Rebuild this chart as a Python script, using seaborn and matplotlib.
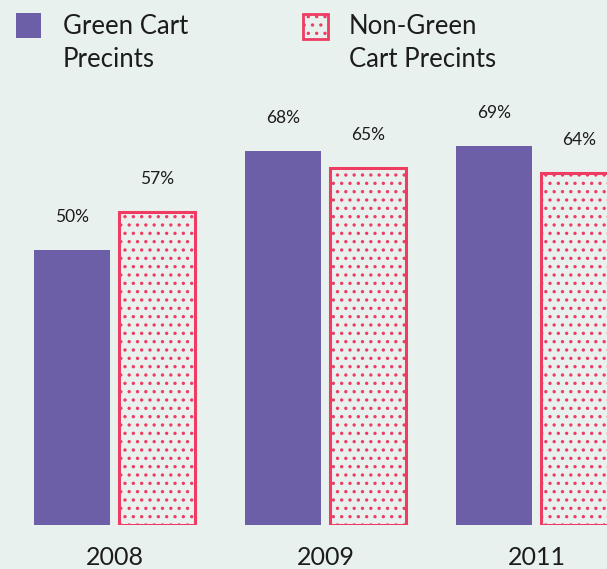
import pandas as pd
import numpy as np
from matplotlib import pyplot as plt
from matplotlib.patches import Rectangle
import seaborn as sns

# values
years = ['2008', '2009', '2011']
green_cart = [50, 68, 69]
non_green_cart = [57, 65, 64]
series_names = ['Green Cart Precints', 'Non-Green Cart Precints']
legend_labels = ['Green Cart\nPrecints', 'Non-Green\nCart Precints']

BG = '#e9f1ee'
PURPLE = '#6c5fa7'
PINK = '#ef3c62'
TEXT = '#1c1c1c'

df = pd.DataFrame({
    'year': years * 2,
    'share': green_cart + non_green_cart,
    'group': [series_names[0]] * len(years) + [series_names[1]] * len(years),
})

sns.set_style('white')
plt.rcParams['font.family'] = ['Lato', 'DejaVu Sans']
plt.rcParams['hatch.linewidth'] = 1.2

fig = plt.figure(figsize=(6.07, 5.69), dpi=100, facecolor=BG)
ax = fig.add_axes([0, 44 / 569, 1, 440 / 569])
ax.set_facecolor(BG)

sns.barplot(data=df, x='year', y='share', hue='group', hue_order=series_names,
            palette=[PURPLE, PINK], width=0.8, gap=0.1, legend=False, ax=ax,
            saturation=1)

# purple bars: plain fill
for bar in ax.containers[0]:
    bar.set_facecolor(PURPLE)
    bar.set_edgecolor(PURPLE)
    bar.set_linewidth(0)

# pink bars: outlined with dotted hatch
for bar in ax.containers[1]:
    bar.set_facecolor(BG)
    bar.set_edgecolor(PINK)
    bar.set_linewidth(2.2)
    bar.set_hatch('..')

for cont in ax.containers:
    ax.bar_label(cont, fmt='%d%%', padding=18, fontsize=12.5, color=TEXT)

ax.set_xlim(-0.543, 2.334)
ax.set_ylim(0, 80)
ax.set_xlabel('')
ax.set_ylabel('')
ax.set_yticks([])
ax.tick_params(axis='x', length=0, pad=15, labelsize=18, labelcolor=TEXT)
sns.despine(ax=ax, left=True, bottom=True)

# legend drawn by hand at the top of the figure
W, H = 607, 569
fig.add_artist(Rectangle((16 / W, 1 - 38 / H), 25 / W, 25 / H,
                         transform=fig.transFigure, facecolor=PURPLE, edgecolor='none'))
fig.add_artist(Rectangle((303 / W, 1 - 39 / H), 25 / W, 25 / H,
                         transform=fig.transFigure, facecolor=BG, edgecolor=PINK,
                         linewidth=2, hatch='..'))
fig.text(63 / W, 1 - 43 / H, legend_labels[0], fontsize=18.5, color=TEXT,
         va='center', ha='left', linespacing=1.38)
fig.text(349 / W, 1 - 43 / H, legend_labels[1], fontsize=18.5, color=TEXT,
         va='center', ha='left', linespacing=1.38)

fig.savefig('out.png', dpi=100, facecolor=BG)
